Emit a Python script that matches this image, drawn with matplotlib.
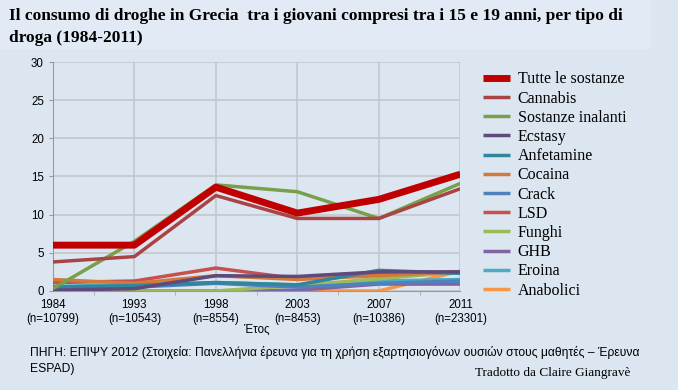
import matplotlib
matplotlib.use("Agg")
import matplotlib.pyplot as plt
from matplotlib.patches import Rectangle

years = ["1984", "1993", "1998", "2003", "2007", "2011"]
samples = ["(n=10799)", "(n=10543)", "(n=8554)", "(n=8453)", "(n=10386)", "(n=23301)"]

series_names = ["Tutte le sostanze", "Cannabis", "Sostanze inalanti", "Ecstasy", "Anfetamine",
                "Cocaina", "Crack", "LSD", "Funghi", "GHB", "Eroina", "Anabolici"]
tutte = [6.0, 6.0, 13.6, 10.2, 12.0, 15.3]
cannabis = [3.8, 4.5, 12.5, 9.5, 9.5, 13.4]
inalanti = [0.3, 6.5, 13.9, 13.0, 9.5, 14.1]
ecstasy = [0.1, 0.3, 2.0, 1.9, 2.5, 2.5]
anfetamine = [0.5, 0.7, 1.1, 0.8, 2.7, 2.3]
cocaina = [1.5, 1.0, 2.0, 1.5, 2.0, 2.5]
crack = [0.5, 0.5, 1.0, 0.5, 1.0, 1.3]
lsd = [1.1, 1.3, 3.0, 1.6, 2.2, 2.5]
funghi = [0.0, 0.0, 0.0, 0.7, 1.6, 2.5]
ghb = [0.0, 0.0, 0.0, 0.1, 0.9, 0.9]
eroina = [0.6, 0.8, 1.1, 0.8, 1.3, 1.5]
anabolici = [0.0, 0.0, 0.0, 0.0, 0.0, 2.6]

data = [tutte, cannabis, inalanti, ecstasy, anfetamine, cocaina, crack, lsd, funghi, ghb, eroina, anabolici]
colors = ["#c00000", "#a94444", "#77a04a", "#5f4a7b", "#31859c", "#d27a3c",
          "#4f81bd", "#c8504d", "#9bbb59", "#8064a2", "#4bacc6", "#f79646"]
widths = [5.0, 2.5, 2.5, 2.5, 2.5, 2.5, 2.5, 2.5, 2.5, 2.5, 2.5, 2.5]

bg = "#dce6f1"
fig = plt.figure(figsize=(6.78, 3.90), dpi=100, facecolor=bg)
fig.patches.append(Rectangle((0.0, 0.875), 0.96, 0.125, transform=fig.transFigure,
                             facecolor="#e1eaf5", edgecolor="none", zorder=0))

ax = fig.add_axes([0.078, 0.254, 0.601, 0.587])
ax.set_facecolor(bg)
x = list(range(len(years)))
order = list(range(len(data)))[::-1]
for i in order:
    ax.plot(x, data[i], color=colors[i], lw=widths[i], solid_capstyle="butt",
            label=series_names[i], zorder=3 if i > 0 else 4)

ax.set_xlim(0, 5)
ax.set_ylim(0, 30)
ax.set_yticks(range(0, 31, 5))
ax.set_xticks(x)
ax.set_xticklabels([f"{y}\n{n}" for y, n in zip(years, samples)],
                   fontfamily="Liberation Sans", fontsize=8.3, linespacing=1.2)
ax.tick_params(axis="y", labelsize=8.3, length=3, color="#999999")
ax.tick_params(axis="x", length=0, pad=6)
for lab in ax.get_yticklabels():
    lab.set_fontfamily("Liberation Sans")
ax.set_xticks([0.5, 1.5, 2.5, 3.5, 4.5], minor=True)
ax.tick_params(axis="x", which="minor", length=3, color="#aaaaaa")
ax.grid(True, color="#c3c7cc", lw=1.2, zorder=0)
ax.set_axisbelow(True)
for s in ["top", "right"]:
    ax.spines[s].set_visible(False)
for s in ["left", "bottom"]:
    ax.spines[s].set_color("#999999")
ax.set_xlabel("Έτος", fontfamily="Liberation Sans", fontsize=8.3, labelpad=-1)

handles, labels = ax.get_legend_handles_labels()
hmap = dict(zip(labels, handles))
leg = fig.legend([hmap[n] for n in series_names], series_names, loc="upper left",
                 bbox_to_anchor=(0.712, 0.817), frameon=False,
                 prop={"family": "Liberation Serif", "size": 11.5},
                 handlelength=1.7, labelspacing=0.20, handletextpad=0.5,
                 borderaxespad=0, borderpad=0)

fig.text(0.014, 0.960, "Il consumo di droghe in Grecia  tra i giovani compresi tra i 15 e 19 anni, per tipo di",
         fontfamily="Liberation Serif", fontweight="bold", fontsize=12.5, va="center")
fig.text(0.014, 0.903, "droga (1984-2011)",
         fontfamily="Liberation Serif", fontweight="bold", fontsize=12.5, va="center")

fig.text(0.044, 0.097, "ΠΗΓΗ: ΕΠΙΨΥ 2012 (Στοιχεία: Πανελλήνια έρευνα για τη χρήση εξαρτησιογόνων ουσιών στους μαθητές – Έρευνα",
         fontfamily="Liberation Sans", fontsize=8.7, va="center")
fig.text(0.044, 0.055, "ESPAD)", fontfamily="Liberation Sans", fontsize=8.7, va="center")
fig.text(0.70, 0.043, "Tradotto da Claire Giangravè", fontfamily="Liberation Serif",
         fontsize=9.5, va="center")

fig.savefig("out.png", dpi=100, facecolor=bg)
